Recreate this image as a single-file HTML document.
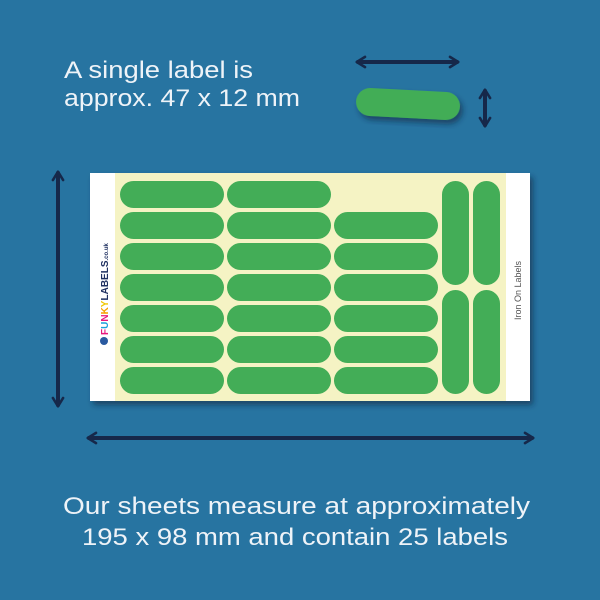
<!DOCTYPE html>
<html><head><style>body{margin:0;background:#2774a1}svg{display:block}</style></head><body>
<svg width="600" height="600" viewBox="0 0 600 600" xmlns="http://www.w3.org/2000/svg">
<defs>
<marker id="ah" viewBox="0 0 10 10" refX="7" refY="5" markerWidth="3.2" markerHeight="3.2" orient="auto-start-reverse"><path d="M1.5,1 L8,5 L1.5,9" fill="none" stroke="#16284a" stroke-width="2" stroke-linecap="round" stroke-linejoin="round"/></marker>
<filter id="sh" x="-10%" y="-10%" width="130%" height="140%"><feDropShadow dx="3" dy="4" stdDeviation="3" flood-color="#0a2540" flood-opacity="0.6"/></filter>
</defs>
<rect width="600" height="600" fill="#2774a1"/>
<g font-family="Liberation Sans, sans-serif" fill="#eef3f8" font-size="24">
<text x="64" y="78" textLength="189" lengthAdjust="spacingAndGlyphs">A single label is</text>
<text x="64" y="106" textLength="236" lengthAdjust="spacingAndGlyphs">approx. 47 x 12 mm</text>
<text x="63" y="514" textLength="467" lengthAdjust="spacingAndGlyphs">Our sheets measure at approximately</text>
<text x="82" y="545" textLength="426" lengthAdjust="spacingAndGlyphs">195 x 98 mm and contain 25 labels</text>
</g>
<g stroke="#16284a" stroke-width="4" stroke-linecap="round" marker-start="url(#ah)" marker-end="url(#ah)">
<line x1="358" y1="62" x2="457" y2="62"/>
<line x1="485" y1="91" x2="485" y2="125"/>
<line x1="58" y1="173" x2="58" y2="405"/>
<line x1="89" y1="438" x2="532" y2="438"/>
</g>
<rect x="356" y="90" width="104" height="28" rx="14" fill="#43ad57" transform="rotate(3 408 104)" filter="url(#sh)"/>
<rect x="90" y="173" width="440" height="228" fill="#fff" filter="url(#sh)"/>
<rect x="115" y="173" width="391" height="228" fill="#f5f3c4"/>
<g fill="#43ad57">
<rect x="120" y="181" width="104" height="27" rx="13.5"/>
<rect x="227" y="181" width="104" height="27" rx="13.5"/>
<rect x="120" y="212" width="104" height="27" rx="13.5"/><rect x="227" y="212" width="104" height="27" rx="13.5"/><rect x="334" y="212" width="104" height="27" rx="13.5"/>
<rect x="120" y="243" width="104" height="27" rx="13.5"/><rect x="227" y="243" width="104" height="27" rx="13.5"/><rect x="334" y="243" width="104" height="27" rx="13.5"/>
<rect x="120" y="274" width="104" height="27" rx="13.5"/><rect x="227" y="274" width="104" height="27" rx="13.5"/><rect x="334" y="274" width="104" height="27" rx="13.5"/>
<rect x="120" y="305" width="104" height="27" rx="13.5"/><rect x="227" y="305" width="104" height="27" rx="13.5"/><rect x="334" y="305" width="104" height="27" rx="13.5"/>
<rect x="120" y="336" width="104" height="27" rx="13.5"/><rect x="227" y="336" width="104" height="27" rx="13.5"/><rect x="334" y="336" width="104" height="27" rx="13.5"/>
<rect x="120" y="367" width="104" height="27" rx="13.5"/><rect x="227" y="367" width="104" height="27" rx="13.5"/><rect x="334" y="367" width="104" height="27" rx="13.5"/>
<rect x="442" y="181" width="27" height="104" rx="13.5"/><rect x="473" y="181" width="27" height="104" rx="13.5"/>
<rect x="442" y="290" width="27" height="104" rx="13.5"/><rect x="473" y="290" width="27" height="104" rx="13.5"/>
</g>
<text transform="translate(521 320) rotate(-90)" font-family="Liberation Sans, sans-serif" font-size="9" fill="#555">Iron On Labels</text>
<g transform="translate(108 335) rotate(-90)" font-family="Liberation Sans, sans-serif" font-weight="bold" font-size="10">
<text x="0" y="0"><tspan fill="#e8197d">F</tspan><tspan fill="#1aa0dc">U</tspan><tspan fill="#e8197d">N</tspan><tspan fill="#f5a000">K</tspan><tspan fill="#f0c800">Y</tspan><tspan fill="#1f3060">LABELS</tspan><tspan fill="#1f3060" font-size="6">.co.uk</tspan></text>
</g>
<circle cx="104" cy="341" r="4" fill="#2a5aa0"/>
</svg>
</body></html>
